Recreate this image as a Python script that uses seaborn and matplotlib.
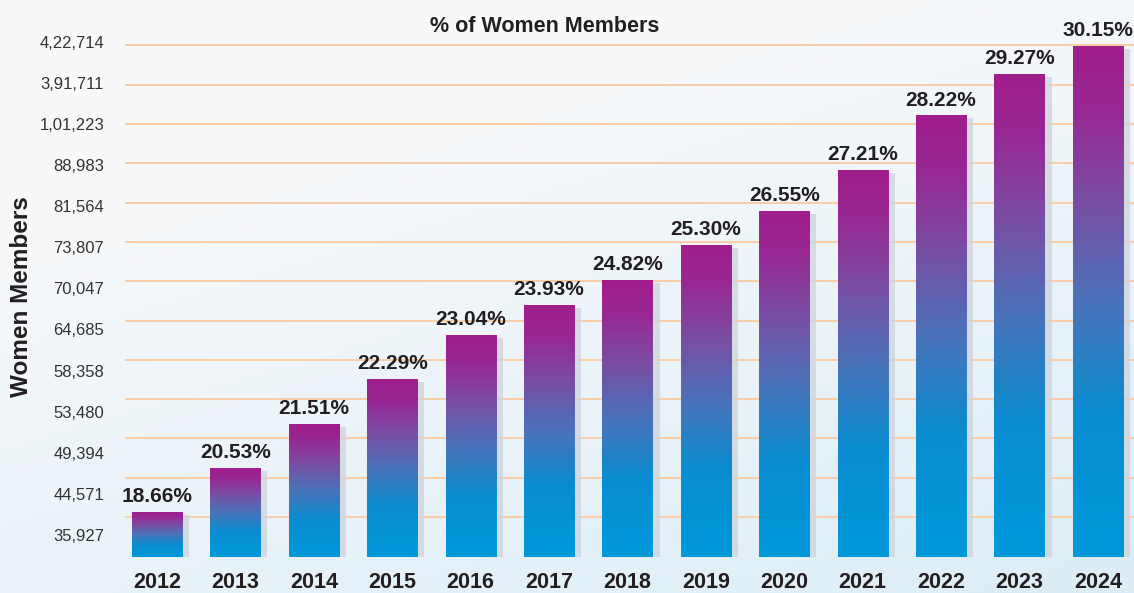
import numpy as np
import pandas as pd
import seaborn as sns
import matplotlib.pyplot as plt
from matplotlib.colors import LinearSegmentedColormap
from matplotlib.patches import Rectangle
from matplotlib.transforms import ScaledTranslation

# Data
years = ['2012', '2013', '2014', '2015', '2016', '2017', '2018',
         '2019', '2020', '2021', '2022', '2023', '2024']
share_pct = [18.66, 20.53, 21.51, 22.29, 23.04, 23.93, 24.82,
             25.30, 26.55, 27.21, 28.22, 29.27, 30.15]
# bar heights, in y-axis units (one unit = one label step)
bar_level = [1.10, 2.17, 3.24, 4.33, 5.40, 6.13, 6.74,
             7.59, 8.42, 9.42, 10.75, 11.75, 12.43]
member_ticks = ['35,927', '44,571', '49,394', '53,480', '58,358', '64,685', '70,047',
                '73,807', '81,564', '88,983', '1,01,223', '3,91,711', '4,22,714']

df = pd.DataFrame({'Year': years, 'Level': bar_level})

sns.set_style("white")
plt.rcParams['font.family'] = ['Liberation Sans', 'DejaVu Sans']

fig = plt.figure(figsize=(11.34, 5.93), dpi=100)

# soft background wash: near white at the top, pale blue towards bottom right
bg = fig.add_axes([0, 0, 1, 1], zorder=-5)
gx, gy = np.meshgrid(np.linspace(0, 1, 300), np.linspace(0, 1, 200))
t = np.clip(0.45 * gx + 0.8 * gy - 0.35, 0, 1)
c0 = np.array([0.968, 0.975, 0.984])
c1 = np.array([0.85, 0.925, 0.965])
img = c0 + (c1 - c0) * t[..., None]
bg.imshow(img, extent=[0, 1, 0, 1], aspect='auto', origin='upper')
bg.axis('off')

ax = fig.add_axes([125 / 1134, 36 / 593, 1009 / 1134, 557 / 593])
ax.set_facecolor('none')

sns.barplot(data=df, x='Year', y='Level', order=years, width=0.64,
            color='#0096d6', ax=ax, zorder=3)

bar_cmap = LinearSegmentedColormap.from_list(
    'bars', [(0.0, '#0099da'), (0.28, '#0a8dd0'), (0.5, '#4a72b9'),
             (0.7, '#7a4da3'), (0.88, '#982793'), (1.0, '#a01e8c')])
grad = np.linspace(0, 1, 256).reshape(-1, 1)
shadow_off = ScaledTranslation(7 / 100, -3 / 100, fig.dpi_scale_trans)

patches = list(ax.patches)
for p in patches:
    x0, y0 = p.get_x(), p.get_y()
    w, h = p.get_width(), p.get_height()
    shadow = Rectangle((x0, y0), w, h, transform=ax.transData + shadow_off,
                       facecolor='#cfd5dc', edgecolor='none', alpha=0.8, zorder=2)
    ax.add_patch(shadow)
    im = ax.imshow(grad, extent=[x0, x0 + w, y0, y0 + h], origin='lower',
                   aspect='auto', cmap=bar_cmap, zorder=3.5)
    im.set_clip_path(p)
    p.set_facecolor('none')
    p.set_edgecolor('none')

ax.bar_label(ax.containers[0], labels=[f'{v:.2f}%' for v in share_pct],
             padding=4, fontsize=15, fontweight='bold', color='#231f20', zorder=5)

# label steps and grid steps are slightly different in the original
label_pos = [0.535 + k for k in range(len(member_ticks))]
grid_pos = [0.973 + 0.956 * j for j in range(len(member_ticks))]
ax.set_yticks(label_pos, member_ticks)
ax.set_yticks(grid_pos, minor=True)
ax.grid(False)
ax.yaxis.grid(True, which='minor', color='#fccca4', linewidth=1.4, zorder=0)
ax.set_axisbelow(True)

ax.set_xlim(-0.408, 12.46)
ax.set_ylim(0, 13.55)
ax.tick_params(axis='y', which='both', length=0, pad=15, labelsize=12, labelcolor='#333333')
ax.tick_params(axis='x', length=0, pad=11, labelsize=15.5, labelcolor='#231f20')
for lbl in ax.get_xticklabels():
    lbl.set_fontweight('bold')
ax.set_xlabel('')
ax.set_ylabel('')
sns.despine(ax=ax, left=True, bottom=True)

fig.text(545 / 1134, 1 - 27 / 593, '% of Women Members', ha='center', va='center',
         fontsize=15.5, fontweight='bold', color='#231f20')
fig.text(22 / 1134, 1 - 297 / 593, 'Women Members', ha='center', va='center',
         rotation=90, fontsize=17.5, fontweight='bold', color='#231f20')

fig.savefig('out.png', dpi=100)
